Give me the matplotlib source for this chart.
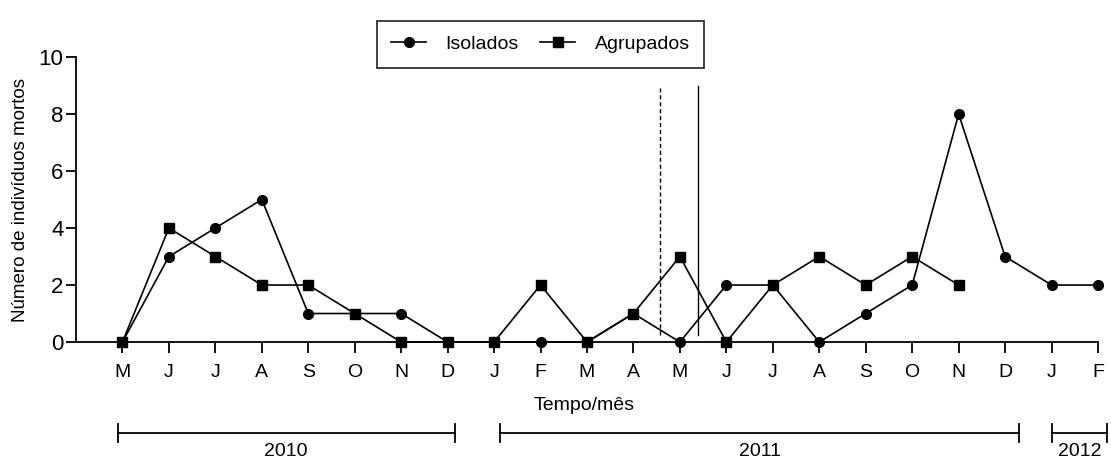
import numpy as np
import matplotlib.pyplot as plt
from matplotlib.transforms import blended_transform_factory

plt.rcParams['font.family'] = ['Liberation Sans', 'DejaVu Sans']

months = ["M", "J", "J", "A", "S", "O", "N", "D",
          "J", "F", "M", "A", "M", "J", "J", "A", "S", "O", "N", "D",
          "J", "F"]
isolados = [0, 3, 4, 5, 1, 1, 1, 0, 0, 0, 0, 1, 0, 2, 2, 0, 1, 2, 8, 3, 2, 2]
agrupados = [0, 4, 3, 2, 2, 1, 0, 0, 0, 2, 0, 1, 3, 0, 2, 3, 2, 3, 2]
years = ["2010", "2011", "2012"]
year_spans = [(-0.1, 7.15), (8.13, 19.3), (20.0, 21.2)]
dashed_x = 11.57
solid_x = 12.39

x_iso = np.arange(len(isolados))
x_agr = np.arange(len(agrupados))

fig = plt.figure(figsize=(11.11, 4.62), dpi=100)
ax = fig.add_axes([0.0684, 0.2597, 0.9199, 0.6169])

ax.plot(x_iso, isolados, '-o', color='black', lw=1.2, ms=7, label='Isolados', clip_on=False, zorder=3)
ax.plot(x_agr, agrupados, '-s', color='black', lw=1.2, ms=6.5, label='Agrupados', clip_on=False, zorder=3)

ax.plot([dashed_x, dashed_x], [0.25, 8.9], '--', color='black', lw=1.0, dashes=(3, 2))
ax.plot([solid_x, solid_x], [0.25, 9.0], '-', color='black', lw=1.0)

ax.set_xlim(-1, 21)
ax.set_ylim(0, 10)
ax.set_xticks(np.arange(len(months)))
ax.set_xticklabels(months, fontsize=14)
ax.set_yticks(np.arange(0, 11, 2))
ax.tick_params(axis='y', labelsize=16, length=7, width=1.3, direction='out', pad=2)
ax.tick_params(axis='x', length=8, width=1.3, direction='out', pad=8)
ax.spines['top'].set_visible(False)
ax.spines['right'].set_visible(False)
ax.spines['left'].set_linewidth(1.3)
ax.spines['bottom'].set_linewidth(1.3)
ax.set_ylabel('Número de indivíduos mortos', fontsize=13.5, labelpad=7)

fig.text(0.526, 0.123, 'Tempo/mês', fontsize=14, ha='center', va='center')

tr = blended_transform_factory(ax.transData, fig.transFigure)
y_br = (462 - 433) / 462
h = 9 / 462
for name, (a, b) in zip(years, year_spans):
    ax.plot([a, b], [y_br, y_br], color='black', lw=1.3, transform=tr, clip_on=False)
    ax.plot([a, a], [y_br - h, y_br + h], color='black', lw=1.3, transform=tr, clip_on=False)
    ax.plot([b, b], [y_br - h, y_br + h], color='black', lw=1.3, transform=tr, clip_on=False)
    fig.text((a + b) / 2, (462 - 452) / 462, name, fontsize=14, ha='center', va='center',
             transform=tr)

leg = fig.legend(loc='center', bbox_to_anchor=(0.4865, 0.904), ncol=2, fontsize=14,
                 frameon=True, fancybox=False, edgecolor='black', handlelength=1.8,
                 columnspacing=1.1, borderpad=0.75, handletextpad=1.0)
leg.get_frame().set_linewidth(1.3)

fig.savefig('out.png', dpi=100)
